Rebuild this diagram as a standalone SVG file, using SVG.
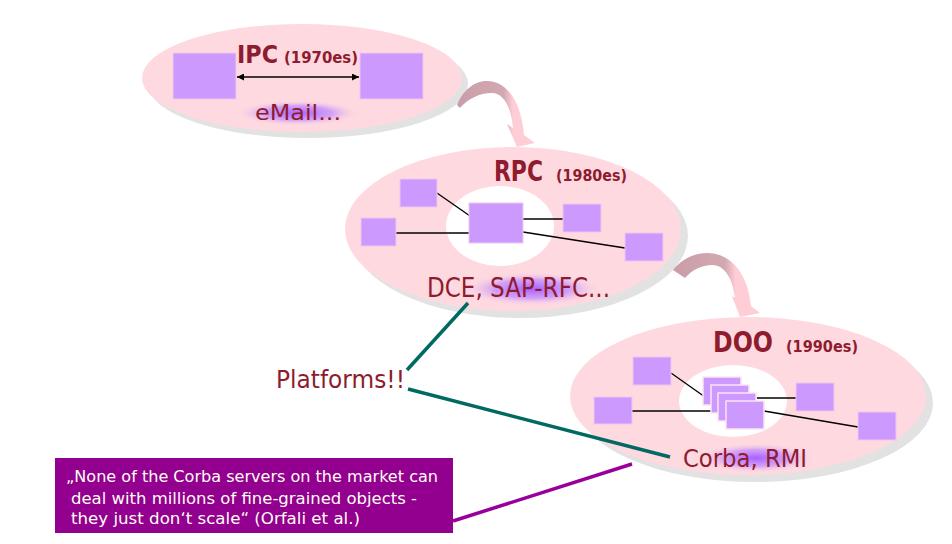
<svg xmlns="http://www.w3.org/2000/svg" width="952" height="544" viewBox="0 0 952 544">
<style>
.shadow{fill:#e2e2e2}
.cloud{fill:#ffd9e0}
.core{fill:#ffffff}
.box{fill:#cc99ff;stroke:#f2c6ee;stroke-width:1}
.sbox{fill:#cc99ff;stroke:#fbe3f3;stroke-width:1.5}
.link{stroke:#000;stroke-width:1.3;fill:none}
.t{font-family:"DejaVu Sans","Liberation Sans",sans-serif;fill:#8e1b2e}
.b{font-weight:bold}
.q{font-family:"DejaVu Sans","Liberation Sans",sans-serif;fill:#fffff4;font-size:16.5px}
.teal{stroke:#006a62;stroke-width:3.5;fill:none}
.purp{stroke:#990099;stroke-width:3.5;fill:none}
</style>
<defs>
<radialGradient id="glow" cx="0.5" cy="0.5" r="0.5">
<stop offset="0" stop-color="#a860ff" stop-opacity="1"/>
<stop offset="0.55" stop-color="#c088ff" stop-opacity="0.7"/>
<stop offset="1" stop-color="#ffd9e0" stop-opacity="0"/>
</radialGradient>
<linearGradient id="arrowGrad" x1="0" y1="0" x2="1" y2="0">
<stop offset="0" stop-color="#c99da7"/>
<stop offset="0.6" stop-color="#d3a9b1"/>
<stop offset="0.72" stop-color="#ffcdd6"/>
<stop offset="1" stop-color="#ffcdd6"/>
</linearGradient>
<marker id="ah" viewBox="0 0 10 10" refX="10" refY="5" markerWidth="8" markerHeight="7" markerUnits="userSpaceOnUse" orient="auto-start-reverse">
<path d="M0,0 L10,5 L0,10 z" fill="#000"/>
</marker>
</defs>

<g id="ipc">
<ellipse class="shadow" cx="308" cy="84" rx="160" ry="54"/>
<ellipse class="cloud" cx="302" cy="78" rx="160" ry="54"/>
<ellipse cx="298" cy="113" rx="62" ry="13" fill="url(#glow)"/>
<rect class="box" x="173" y="53" width="63" height="46"/>
<rect class="box" x="360" y="53" width="63" height="46"/>
<line class="link" x1="237" y1="77" x2="359" y2="77" stroke-width="1.5" marker-start="url(#ah)" marker-end="url(#ah)"/>
<text class="t b" x="237" y="63" font-size="24" textLength="41" lengthAdjust="spacingAndGlyphs">IPC</text>
<text class="t b" x="284" y="63" font-size="16" textLength="74" lengthAdjust="spacingAndGlyphs">(1970es)</text>
<text class="t" x="255" y="120" font-size="22" textLength="86" lengthAdjust="spacingAndGlyphs">eMail...</text>
</g>

<g id="rpc">
<ellipse class="shadow" cx="520" cy="236" rx="168" ry="82"/>
<ellipse class="cloud" cx="513" cy="229" rx="168" ry="82"/>
<ellipse class="core" cx="500" cy="226" rx="54" ry="40"/>
<ellipse cx="532" cy="289" rx="70" ry="17" fill="url(#glow)"/>
<line class="link" x1="437" y1="193" x2="470" y2="216"/>
<line class="link" x1="396" y1="233" x2="470" y2="233"/>
<line class="link" x1="523" y1="219" x2="563" y2="219"/>
<line class="link" x1="523" y1="232" x2="625" y2="248"/>
<rect class="box" x="400" y="179" width="37" height="28"/>
<rect class="box" x="361" y="218" width="35" height="28"/>
<rect class="box" x="469" y="203" width="54" height="40"/>
<rect class="box" x="563" y="204" width="38" height="28"/>
<rect class="box" x="625" y="233" width="38" height="28"/>
<text class="t b" x="494" y="181" font-size="29" textLength="49" lengthAdjust="spacingAndGlyphs">RPC</text>
<text class="t b" x="556" y="181" font-size="16" textLength="71" lengthAdjust="spacingAndGlyphs">(1980es)</text>
<text class="t" x="427" y="297" font-size="26" textLength="183" lengthAdjust="spacingAndGlyphs">DCE, SAP-RFC...</text>
</g>

<g id="doo">
<ellipse class="shadow" cx="755" cy="403" rx="178" ry="79"/>
<ellipse class="cloud" cx="748" cy="396" rx="178" ry="79"/>
<ellipse class="core" cx="733" cy="401" rx="54" ry="36"/>
<ellipse cx="756" cy="458" rx="58" ry="15" fill="url(#glow)"/>
<line class="link" x1="671" y1="373" x2="705" y2="397"/>
<line class="link" x1="632" y1="411" x2="712" y2="411"/>
<line class="link" x1="757" y1="398" x2="796" y2="398"/>
<line class="link" x1="764" y1="411" x2="858" y2="427"/>
<rect class="box" x="633" y="357" width="38" height="28"/>
<rect class="box" x="594" y="397" width="38" height="27"/>
<rect class="sbox" x="703" y="377" width="38" height="28"/>
<rect class="sbox" x="711" y="385" width="38" height="28"/>
<rect class="sbox" x="718" y="393" width="38" height="28"/>
<rect class="sbox" x="726" y="401" width="38" height="28"/>
<rect class="box" x="796" y="383" width="38" height="28"/>
<rect class="box" x="858" y="412" width="38" height="28"/>
<text class="t b" x="713" y="352" font-size="29" textLength="60" lengthAdjust="spacingAndGlyphs">DOO</text>
<text class="t b" x="786" y="352" font-size="16" textLength="72" lengthAdjust="spacingAndGlyphs">(1990es)</text>
<text class="t" x="683" y="467" font-size="24" textLength="124" lengthAdjust="spacingAndGlyphs">Corba, RMI</text>
</g>

<g id="platforms">
<text class="t" x="276" y="388" font-size="24" textLength="129" lengthAdjust="spacingAndGlyphs">Platforms!!</text>
</g>

<g id="quote">
<rect x="55" y="458" width="398" height="75" fill="#93008f"/>
<text class="q" x="66" y="482" textLength="372" lengthAdjust="spacingAndGlyphs">„None of the Corba servers on the market can</text>
<text class="q" x="71" y="504" textLength="346" lengthAdjust="spacingAndGlyphs">deal with millions of fine-grained objects -</text>
<text class="q" x="71" y="524" textLength="289" lengthAdjust="spacingAndGlyphs">they just don‘t scale“ (Orfali et al.)</text>
</g>

<g id="connectors">
<path fill="url(#arrowGrad)" d="M457,105 C464,88 476,81 487,81 C506,81 521,100 524,135 L535,143 L517,147 L507,124 L513,128 C511,106 503,93 492,93 C479,93 468,99 460,108 Z"/>
<path fill="url(#arrowGrad)" d="M673,270 C682,259 694,253 707,253 C732,253 748,275 751,306 L760,313 L740,317 L732,296 L735,298 C733,281 726,265 712,265 C702,265 692,270 685,278 Z"/>
<line class="teal" x1="407" y1="370" x2="468" y2="303"/>
<line class="teal" x1="408" y1="389" x2="670" y2="457"/>
<line class="purp" x1="453" y1="521" x2="632" y2="464"/>
</g>
</svg>
